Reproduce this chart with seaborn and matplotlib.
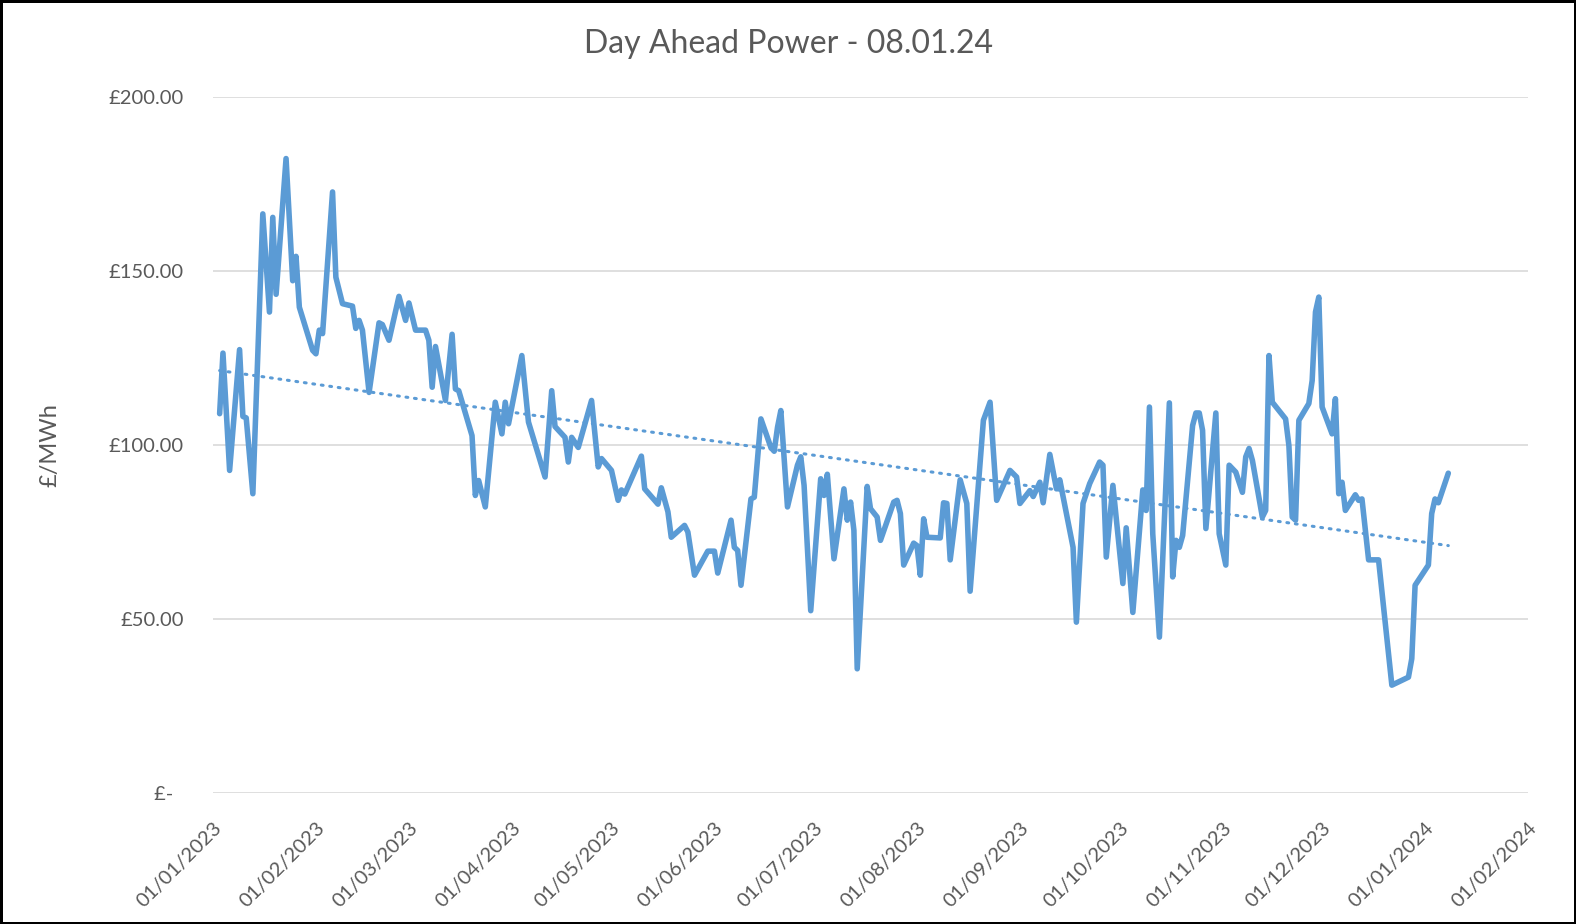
import numpy as np
import pandas as pd
import matplotlib
matplotlib.use("Agg")
import matplotlib.pyplot as plt
import matplotlib.dates as mdates
import seaborn as sns

# Dados (vértices da linha)
dates = [
    "2023-01-03", "2023-01-04", "2023-01-06", "2023-01-09", "2023-01-10", "2023-01-11",
    "2023-01-13", "2023-01-16", "2023-01-18", "2023-01-19", "2023-01-20", "2023-01-23",
    "2023-01-25", "2023-01-26", "2023-01-27", "2023-01-31", "2023-02-01", "2023-02-02",
    "2023-02-03", "2023-02-06", "2023-02-07", "2023-02-09", "2023-02-12", "2023-02-13",
    "2023-02-14", "2023-02-15", "2023-02-17", "2023-02-20", "2023-02-21", "2023-02-23",
    "2023-02-26", "2023-02-28", "2023-03-01", "2023-03-03", "2023-03-06", "2023-03-07",
    "2023-03-08", "2023-03-09", "2023-03-12", "2023-03-14", "2023-03-15", "2023-03-16",
    "2023-03-20", "2023-03-21", "2023-03-22", "2023-03-24", "2023-03-27", "2023-03-29",
    "2023-03-30", "2023-03-31", "2023-04-04", "2023-04-06", "2023-04-11", "2023-04-13",
    "2023-04-14", "2023-04-17", "2023-04-18", "2023-04-19", "2023-04-21", "2023-04-25",
    "2023-04-27", "2023-04-28", "2023-05-01", "2023-05-03", "2023-05-04", "2023-05-05",
    "2023-05-10", "2023-05-11", "2023-05-15", "2023-05-16", "2023-05-18", "2023-05-19",
    "2023-05-23", "2023-05-24", "2023-05-26", "2023-05-30", "2023-06-01", "2023-06-02",
    "2023-06-06", "2023-06-07", "2023-06-08", "2023-06-09", "2023-06-12", "2023-06-13",
    "2023-06-15", "2023-06-18", "2023-06-19", "2023-06-20", "2023-06-21", "2023-06-23",
    "2023-06-26", "2023-06-27", "2023-06-28", "2023-06-30", "2023-07-03", "2023-07-04",
    "2023-07-05", "2023-07-07", "2023-07-10", "2023-07-11", "2023-07-12", "2023-07-13",
    "2023-07-14", "2023-07-17", "2023-07-18", "2023-07-20", "2023-07-21", "2023-07-25",
    "2023-07-26", "2023-07-27", "2023-07-28", "2023-07-31", "2023-08-01", "2023-08-02",
    "2023-08-03", "2023-08-04", "2023-08-08", "2023-08-09", "2023-08-10", "2023-08-11",
    "2023-08-14", "2023-08-16", "2023-08-17", "2023-08-21", "2023-08-23", "2023-08-25",
    "2023-08-29", "2023-08-31", "2023-09-01", "2023-09-04", "2023-09-05", "2023-09-07",
    "2023-09-08", "2023-09-10", "2023-09-12", "2023-09-13", "2023-09-17", "2023-09-18",
    "2023-09-20", "2023-09-22", "2023-09-25", "2023-09-26", "2023-09-27", "2023-09-29",
    "2023-10-02", "2023-10-03", "2023-10-05", "2023-10-08", "2023-10-09", "2023-10-10",
    "2023-10-11", "2023-10-13", "2023-10-16", "2023-10-17", "2023-10-18", "2023-10-19",
    "2023-10-20", "2023-10-23", "2023-10-24", "2023-10-25", "2023-10-26", "2023-10-27",
    "2023-10-30", "2023-10-31", "2023-11-02", "2023-11-03", "2023-11-05", "2023-11-07",
    "2023-11-08", "2023-11-09", "2023-11-10", "2023-11-13", "2023-11-14", "2023-11-15",
    "2023-11-16", "2023-11-20", "2023-11-21", "2023-11-22", "2023-11-23", "2023-11-24",
    "2023-11-27", "2023-11-28", "2023-11-29", "2023-11-30", "2023-12-01", "2023-12-04",
    "2023-12-05", "2023-12-06", "2023-12-07", "2023-12-08", "2023-12-11", "2023-12-12",
    "2023-12-13", "2023-12-15", "2023-12-18", "2023-12-22", "2023-12-27", "2023-12-28",
    "2023-12-29", "2024-01-02", "2024-01-03", "2024-01-04", "2024-01-05", "2024-01-08",
]
prices = [
    108.9, 126.3, 92.6, 127.3, 108.1, 107.7,
    85.9, 166.3, 138.1, 165.3, 143.2, 182.2,
    147.1, 154.1, 139.5, 127.1, 126.1, 132.9,
    131.9, 172.6, 148.1, 140.5, 139.8, 133.4,
    135.7, 132.9, 115.0, 135.0, 134.5, 130.0,
    142.6, 135.7, 140.7, 132.9, 132.9, 130.0,
    116.5, 128.2, 112.7, 131.7, 116.0, 115.5,
    102.6, 85.4, 89.7, 82.1, 112.2, 103.1,
    112.2, 106.0, 125.6, 106.5, 90.7, 115.5,
    105.2, 102.1, 95.0, 102.1, 99.2, 112.7,
    93.6, 96.0, 92.6, 84.0, 87.0, 85.8,
    96.7, 87.3, 82.9, 87.6, 80.7, 73.4,
    76.8, 74.9, 62.5, 69.4, 69.4, 63.1,
    78.3, 70.5, 69.6, 59.6, 84.4, 84.9,
    107.4, 99.2, 98.1, 105.0, 109.8, 82.1,
    94.1, 96.5, 88.3, 52.3, 90.2, 85.4,
    91.5, 67.2, 87.3, 78.3, 83.5, 75.4,
    35.6, 88.0, 81.6, 79.2, 72.5, 83.5,
    84.0, 80.2, 65.4, 71.7, 71.0, 62.5,
    78.7, 73.4, 73.2, 83.3, 83.1, 66.9,
    89.9, 83.1, 57.9, 107.0, 112.2, 84.0,
    92.6, 90.7, 83.1, 86.8, 85.1, 89.2,
    83.3, 97.2, 87.3, 89.9, 70.5, 49.0,
    83.1, 88.8, 95.0, 94.1, 67.7, 88.3,
    60.1, 76.1, 51.8, 87.0, 81.1, 110.8,
    74.4, 44.7, 112.0, 62.0, 72.5, 70.5,
    73.9, 105.5, 109.1, 109.1, 104.1, 75.9,
    109.1, 74.4, 65.4, 94.1, 92.1, 86.3,
    96.5, 98.9, 95.5, 79.2, 81.1, 125.6,
    112.2, 107.4, 99.7, 79.2, 78.3, 107.0,
    111.8, 118.4, 138.1, 142.4, 110.8, 103.1,
    113.2, 85.9, 89.2, 81.1, 85.6, 84.0,
    84.4, 66.9, 66.9, 30.9, 33.2, 38.5,
    59.6, 65.4, 80.2, 84.4, 83.3, 91.8,
]
y_ticks = [0, 50, 100, 150, 200]
y_tick_labels = ["£-  ", "£50.00", "£100.00", "£150.00", "£200.00"]

df = pd.DataFrame({"data": pd.to_datetime(dates), "preco": prices})

# Linha de tendência linear (como no Excel)
xnum = mdates.date2num(df["data"])
coef = np.polyfit(xnum, df["preco"], 1)
df["tendencia"] = np.polyval(coef, xnum)

azul = "#5B9BD5"
cinza = "#595959"

sns.set_theme(style="white")
plt.rcParams["font.family"] = ["Lato", "DejaVu Sans"]

fig = plt.figure(figsize=(15.76, 9.24), dpi=100, edgecolor="black", linewidth=2.5)
ax = fig.add_axes([213 / 1576, 1 - 792.7 / 924, 1315 / 1576, 696.1 / 924])

sns.lineplot(data=df, x="data", y="preco", ax=ax, color=azul, linewidth=4)
sns.lineplot(data=df, x="data", y="tendencia", ax=ax, color=azul, linewidth=2.2,
             linestyle=(0, (0.6, 2.2)), dash_capstyle="round")

ax.set_xlim(pd.Timestamp("2023-01-01"), pd.Timestamp("2024-02-01"))
ax.set_ylim(0, 200)
ax.set_yticks(y_ticks)
ax.set_yticklabels(y_tick_labels)
ax.xaxis.set_major_locator(mdates.MonthLocator())
ax.xaxis.set_major_formatter(mdates.DateFormatter("%d/%m/%Y"))

ax.grid(axis="y", color="#D9D9D9", linewidth=1.2)
ax.grid(axis="x", visible=False)
for s in ax.spines.values():
    s.set_visible(False)

ax.tick_params(axis="y", length=0, pad=21, labelsize=14.5, labelcolor=cinza)
ax.tick_params(axis="x", length=0, pad=19, labelsize=14.5, labelcolor=cinza)
for lab in ax.get_xticklabels():
    lab.set_rotation(45)
    lab.set_ha("right")
    lab.set_rotation_mode("anchor")

ax.set_xlabel("")
ax.set_ylabel("£/MWh", fontsize=17, color=cinza)
ax.yaxis.set_label_coords((60 - 213) / 1315, 0.5)
fig.text(0.5, 1 - 44 / 924, "Day Ahead Power - 08.01.24", ha="center", va="center",
         fontsize=23, color=cinza)

fig.savefig("out.png", dpi=100, edgecolor=fig.get_edgecolor())
